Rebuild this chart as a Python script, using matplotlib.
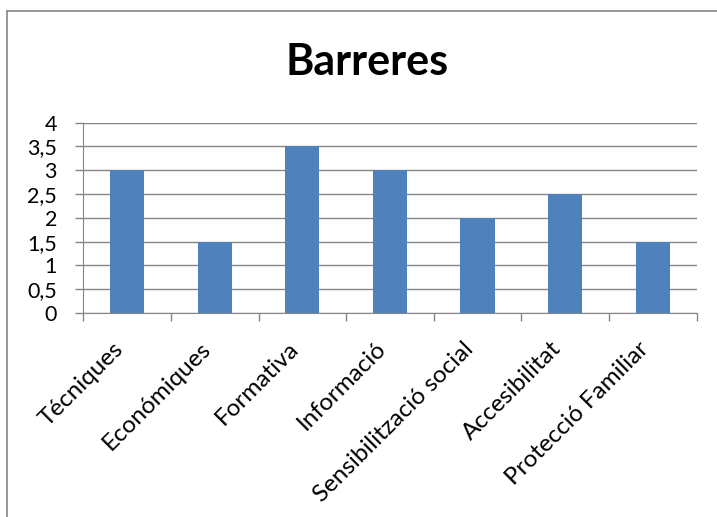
import matplotlib
matplotlib.use("Agg")
import matplotlib.pyplot as plt
from matplotlib.lines import Line2D
from matplotlib.transforms import ScaledTranslation

categories = ["Técniques", "Económiques", "Formativa", "Informació",
              "Sensibilització social", "Accesibilitat", "Protecció Familiar"]
values = [3, 1.5, 3.5, 3, 2, 2.5, 1.5]
yticks = [0, 0.5, 1, 1.5, 2, 2.5, 3, 3.5, 4]
ytick_labels = ["0", "0,5", "1", "1,5", "2", "2,5", "3", "3,5", "4"]
title = "Barreres"

plt.rcParams['font.family'] = ['Lato', 'DejaVu Sans']

fig = plt.figure(figsize=(7.17, 5.17), dpi=100)
ax = fig.add_axes([83.3/717, 1-313/517, (696.5-83.3)/717, (313-122.7)/517])

x = list(range(len(categories)))
ax.bar(x, values, width=0.39, color="#4F81BD", zorder=3)
ax.set_xlim(-0.5, len(categories)-0.5)
ax.set_ylim(0, 4)
ax.set_yticks(yticks)
ax.set_yticklabels(ytick_labels, fontsize=15.5)
ax.yaxis.grid(True, color="#868686", linewidth=1, zorder=0)
ax.set_xticks([i - 0.5 for i in range(len(categories)+1)])
ax.set_xticklabels([])
ax.set_xticks(x, minor=True)
ax.set_xticklabels(categories, minor=True, rotation=45, ha='right', va='top',
                   fontsize=17.5)
offset = ScaledTranslation(4/100, 0, fig.dpi_scale_trans)
for lbl in ax.get_xticklabels(minor=True):
    lbl.set_transform(lbl.get_transform() + offset)
ax.tick_params(axis='x', which='minor', length=0, pad=18)
ax.tick_params(axis='x', which='major', length=6, color="#868686", width=1)
ax.tick_params(axis='y', length=6, color="#868686", width=1, pad=13)
for s in ['top', 'right']:
    ax.spines[s].set_visible(False)
for s in ['left', 'bottom']:
    ax.spines[s].set_color("#868686")

fig.text(367/717, 1-62/517, title, ha='center', va='center',
         fontsize=31, fontweight='bold')

# chart frame
fig.add_artist(Line2D([7/717, 7/717], [0, 1-10.5/517], transform=fig.transFigure,
                      color="#868686", linewidth=1.2))
fig.add_artist(Line2D([7/717, 1], [1-10.5/517, 1-10.5/517], transform=fig.transFigure,
                      color="#868686", linewidth=1.2))

fig.savefig("out.png", dpi=100)
